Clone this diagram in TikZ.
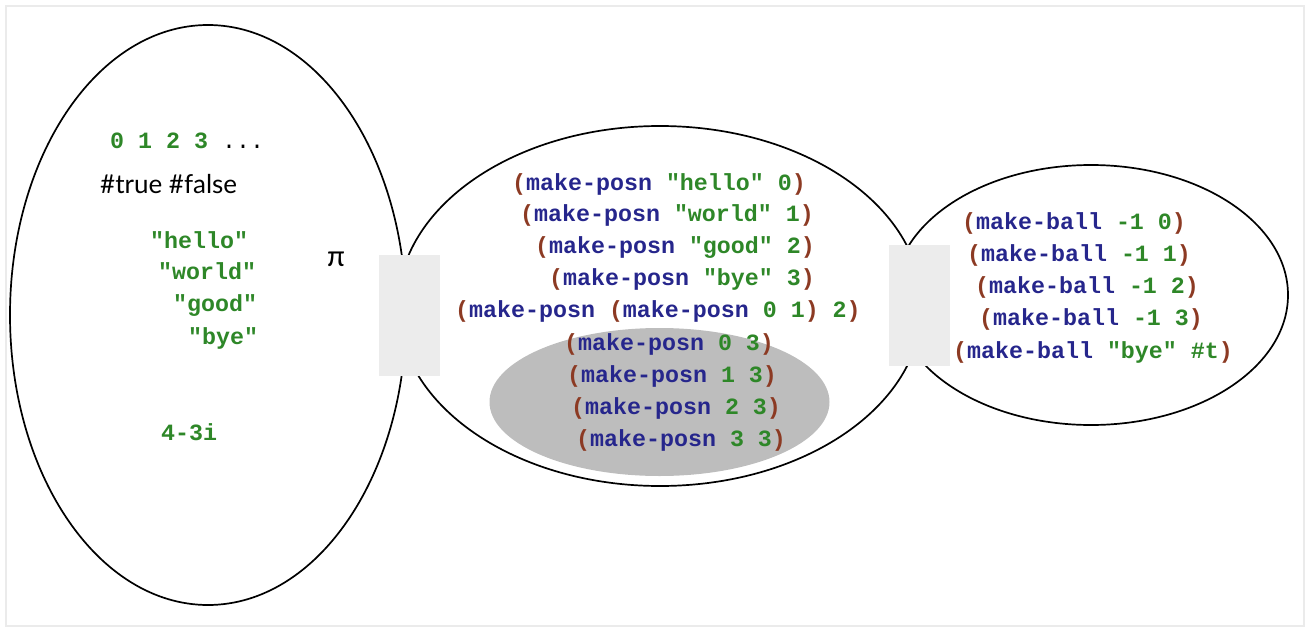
\documentclass[tikz,border=0pt]{standalone}
\usepackage{fontspec}
\setmainfont{Lato}
\newfontfamily\codefont{Liberation Mono}
\definecolor{parc}{RGB}{140,58,35}
\definecolor{kwc}{RGB}{38,38,140}
\definecolor{litc}{RGB}{46,135,40}
\definecolor{framec}{RGB}{235,235,235}
\definecolor{boxc}{RGB}{236,236,236}
\definecolor{innerc}{RGB}{189,189,189}
\newcommand\xpar[1]{\textcolor{parc}{#1}}
\newcommand\xkw[1]{\textcolor{kwc}{#1}}
\newcommand\xlit[1]{\textcolor{litc}{#1}}
\tikzset{
  code/.style={anchor=base west, inner sep=0pt, font=\codefont\bfseries\fontsize{23.3}{28}\selectfont},
  sansl/.style={anchor=base west, inner sep=0pt, font=\fontsize{26}{30}\selectfont},
  setline/.style={draw=black, line width=1.7pt},
  patch/.style={fill=boxc, draw=none}
}
\begin{document}
\begin{tikzpicture}[x=1pt,y=-1pt]
\useasboundingbox (0,0) rectangle (1310,632);
\draw[framec, line width=2pt] (6,6) rectangle (1304,626);
% sets
\draw[setline] (208,315) ellipse [x radius=198, y radius=290];
\draw[setline] (660,306) ellipse [x radius=262, y radius=180];
\draw[setline] (1091,295) ellipse [x radius=197, y radius=130];
\fill[innerc] (659.5,402) ellipse [x radius=170, y radius=74];
\fill[patch] (379,255) rectangle (440,376);
\fill[patch] (889,245) rectangle (950,366);
% left set
\node[code] (nums) at (110,148) {\xlit{0 1 2 3} {\mdseries ...}};
\node[sansl] (bools) at (100,193) {\#true \#false};
\node[code] (s1) at (150,248) {\xlit{"hello"}};
\node[code] (s2) at (158,279) {\xlit{"world"}};
\node[code] (s3) at (173,311) {\xlit{"good"}};
\node[code] (s4) at (188,344) {\xlit{"bye"}};
\node[code] (cx) at (161,440) {\xlit{4-3i}};
\node[sansl, font=\fontsize{29}{32}\selectfont] (pi) at (327,266) {π};
% middle set
\node[code] (m1) at (512,190) {\xpar{(}\xkw{make-posn} \xlit{"hello" 0}\xpar{)}};
\node[code] (m2) at (520,221) {\xpar{(}\xkw{make-posn} \xlit{"world" 1}\xpar{)}};
\node[code] (m3) at (535,253) {\xpar{(}\xkw{make-posn} \xlit{"good" 2}\xpar{)}};
\node[code] (m4) at (549,285) {\xpar{(}\xkw{make-posn} \xlit{"bye" 3}\xpar{)}};
\node[code] (m5) at (455,317) {\xpar{(}\xkw{make-posn} \xpar{(}\xkw{make-posn} \xlit{0 1}\xpar{)} \xlit{2}\xpar{)}};
\node[code] (m6) at (564,350) {\xpar{(}\xkw{make-posn} \xlit{0 3}\xpar{)}};
\node[code] (m7) at (567,382) {\xpar{(}\xkw{make-posn} \xlit{1 3}\xpar{)}};
\node[code] (m8) at (571,414) {\xpar{(}\xkw{make-posn} \xlit{2 3}\xpar{)}};
\node[code] (m9) at (576,446) {\xpar{(}\xkw{make-posn} \xlit{3 3}\xpar{)}};
% right set
\node[code] (b1) at (962,229) {\xpar{(}\xkw{make-ball} \xlit{-1 0}\xpar{)}};
\node[code] (b2) at (967,261) {\xpar{(}\xkw{make-ball} \xlit{-1 1}\xpar{)}};
\node[code] (b3) at (975,293) {\xpar{(}\xkw{make-ball} \xlit{-1 2}\xpar{)}};
\node[code] (b4) at (979,325) {\xpar{(}\xkw{make-ball} \xlit{-1 3}\xpar{)}};
\node[code] (b5) at (953,358) {\xpar{(}\xkw{make-ball} \xlit{"bye" \#t}\xpar{)}};
\end{tikzpicture}
\end{document}
